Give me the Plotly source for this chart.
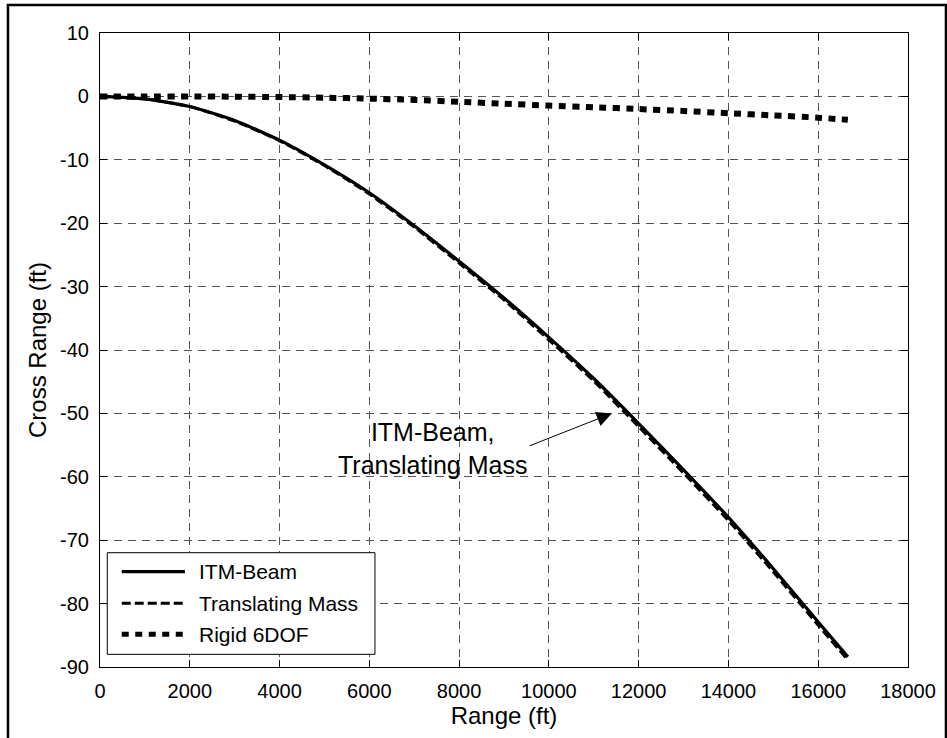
import plotly.graph_objects as go

range_ft = [0, 1000, 2000, 3000, 4000, 5000, 6000, 7000, 8000, 9000,
            10000, 11000, 12000, 13000, 14000, 15000, 16000, 16660]
itm_beam = [0, -0.4, -1.6, -3.8, -6.9, -10.8, -15.2, -20.4, -26.0, -31.8,
            -38.0, -44.5, -51.6, -58.9, -66.4, -74.5, -82.9, -88.4]
translating_mass = [0, -0.4, -1.6, -3.9, -7.0, -10.9, -15.4, -20.6, -26.3, -32.1,
                    -38.4, -44.9, -52.1, -59.4, -66.9, -75.0, -83.4, -88.9]
rigid_6dof = [0, 0, 0, -0.05, -0.1, -0.2, -0.35, -0.55, -0.85, -1.15,
              -1.45, -1.7, -2.0, -2.3, -2.65, -3.0, -3.35, -3.7]

x_ticks = [0, 2000, 4000, 6000, 8000, 10000, 12000, 14000, 16000, 18000]
y_ticks = [10, 0, -10, -20, -30, -40, -50, -60, -70, -80, -90]

FONT = "Arial, Liberation Sans, sans-serif"

fig = go.Figure()
fig.add_trace(go.Scatter(x=range_ft, y=rigid_6dof, mode="lines", name="Rigid 6DOF",
                         line=dict(color="black", width=6, dash="7px,6.5px", shape="spline", smoothing=0.6),
                         showlegend=False))
fig.add_trace(go.Scatter(x=range_ft, y=itm_beam, mode="lines", name="ITM-Beam",
                         line=dict(color="black", width=3.2, shape="spline", smoothing=0.6),
                         showlegend=False))
fig.add_trace(go.Scatter(x=range_ft, y=translating_mass, mode="lines", name="Translating Mass",
                         line=dict(color="black", width=3, dash="9px,4px", shape="spline", smoothing=0.6),
                         showlegend=False))

axis_common = dict(
    showline=True, linecolor="black", linewidth=1.2, mirror="allticks",
    ticks="inside", ticklen=7, tickcolor="black", tickwidth=1,
    showgrid=True, gridcolor="#555555", gridwidth=1, griddash="8px,6px",
    zeroline=False, tickfont=dict(family=FONT, size=20, color="black"),
)

fig.update_xaxes(range=[0, 18000], tickvals=x_ticks, ticktext=[str(v) for v in x_ticks],
                 title=dict(text="Range (ft)", font=dict(family=FONT, size=24, color="black"), standoff=4),
                 ticklabelstandoff=6, **axis_common)
fig.update_yaxes(range=[-90, 10], tickvals=y_ticks, ticktext=[str(v) for v in y_ticks],
                 title=dict(text="Cross Range (ft)", font=dict(family=FONT, size=24, color="black"), standoff=6),
                 ticklabelstandoff=6, **axis_common)

shapes = []
# outer figure border
shapes.append(dict(type="rect", xref="paper", yref="paper", x0=-0.1139, x1=1.047, y0=-0.13, y1=1.0442,
                   line=dict(color="black", width=2.5), fillcolor="rgba(0,0,0,0)"))
# legend box
shapes.append(dict(type="rect", xref="paper", yref="paper", x0=0.0090, x1=0.3403, y0=0.020, y1=0.1803,
                   line=dict(color="black", width=1), fillcolor="white", layer="above"))
legend_items = [("ITM-Beam", dict(color="black", width=3.2), 0.1503),
                ("Translating Mass", dict(color="black", width=3, dash="9px,4px"), 0.1005),
                ("Rigid 6DOF", dict(color="black", width=5, dash="7px,6.5px"), 0.0516)]
annotations = []
for label, ln, yp in legend_items:
    shapes.append(dict(type="line", xref="paper", yref="paper", x0=0.0269, x1=0.1052, y0=yp, y1=yp,
                       line=ln, layer="above"))
    annotations.append(dict(text=label, xref="paper", yref="paper", x=0.1197, y=yp,
                            xanchor="left", yanchor="middle", showarrow=False,
                            font=dict(family=FONT, size=21, color="black")))

# callout
annotations.append(dict(text="ITM-Beam,<br>Translating Mass", x=7400, y=-55.6, xref="x", yref="y",
                        showarrow=False, align="center",
                        font=dict(family=FONT, size=25, color="black")))
annotations.append(dict(text="", x=11400, y=-50, xref="x", yref="y", ax=9540, ay=-55.2,
                        axref="x", ayref="y", showarrow=True, arrowhead=2, arrowsize=3,
                        arrowwidth=1, arrowcolor="black"))

fig.update_layout(
    width=947, height=738, autosize=False,
    margin=dict(l=100, r=39, t=33, b=71),
    paper_bgcolor="white", plot_bgcolor="white",
    shapes=shapes, annotations=annotations,
    font=dict(family=FONT, color="black"),
)

fig.write_html("out.html")
